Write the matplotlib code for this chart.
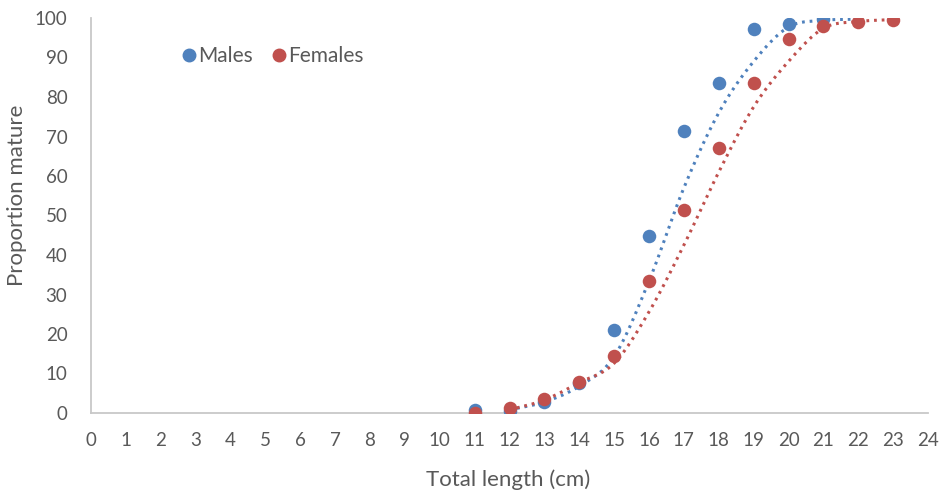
import numpy as np
import matplotlib
matplotlib.use("Agg")
import matplotlib.pyplot as plt
from matplotlib.lines import Line2D

# Observed proportion mature (%) by total length class (cm)
male_length = [11, 12, 13, 14, 15, 16, 17, 18, 19, 20, 21]
male_mature = [0.8, 0.5, 2.9, 7.5, 21.0, 44.8, 71.5, 83.6, 97.1, 98.5, 99.7]

female_length = [11, 12, 13, 14, 15, 16, 17, 18, 19, 20, 21, 22, 23]
female_mature = [0.0, 1.2, 3.5, 7.9, 14.4, 33.4, 51.4, 67.0, 83.6, 94.7, 98.1, 98.9, 99.5]

# Fitted maturity ogives evaluated at each length class
male_fit_length = [12, 13, 14, 15, 16, 17, 18, 19, 20, 21, 22]
male_fit = [0.8, 2.8, 6.8, 14.3, 33.4, 57.0, 76.0, 89.0, 97.7, 99.4, 99.7]

female_fit_length = [12, 13, 14, 15, 16, 17, 18, 19, 20, 21, 22, 23]
female_fit = [0.8, 3.3, 7.7, 12.6, 25.6, 42.5, 61.0, 77.5, 89.0, 97.4, 99.1, 99.6]

x_ticks = list(range(0, 25))
y_ticks = list(range(0, 101, 10))

BLUE = "#4F81BD"
RED = "#C0504D"
TEXT = "#595959"
AXIS = "#C8C8C8"


def smooth(xs, ys, n=20):
    """Catmull-Rom smoothing through the given points (spreadsheet-style smoothed line)."""
    xs = np.asarray(xs, float)
    ys = np.asarray(ys, float)
    px = np.concatenate([[2 * xs[0] - xs[1]], xs, [2 * xs[-1] - xs[-2]]])
    py = np.concatenate([[2 * ys[0] - ys[1]], ys, [2 * ys[-1] - ys[-2]]])
    out_x, out_y = [], []
    t = np.linspace(0, 1, n, endpoint=False)
    for i in range(1, len(px) - 2):
        p0x, p1x, p2x, p3x = px[i - 1:i + 3]
        p0y, p1y, p2y, p3y = py[i - 1:i + 3]
        for (p0, p1, p2, p3, acc) in ((p0x, p1x, p2x, p3x, out_x), (p0y, p1y, p2y, p3y, out_y)):
            acc.extend(0.5 * (2 * p1 + (-p0 + p2) * t + (2 * p0 - 5 * p1 + 4 * p2 - p3) * t ** 2
                              + (-p0 + 3 * p1 - 3 * p2 + p3) * t ** 3))
    out_x.append(xs[-1])
    out_y.append(ys[-1])
    return np.array(out_x), np.array(out_y)


plt.rcParams["font.family"] = ["Lato", "DejaVu Sans"]

fig = plt.figure(figsize=(9.47, 5.0), dpi=100)
ax = fig.add_axes([91 / 947, 1 - 413 / 500, (928 - 91) / 947, (413 - 18) / 500])

dot_style = (0, (0.9, 1.6))
mx, my = smooth(male_fit_length, male_fit)
fx, fy = smooth(female_fit_length, female_fit)
ax.plot(mx, my, color=BLUE, lw=2.2, linestyle=dot_style, zorder=2)
ax.plot(fx, fy, color=RED, lw=2.2, linestyle=dot_style, zorder=2)

ax.scatter(male_length, male_mature, s=95, color=BLUE, zorder=3, linewidths=0)
ax.scatter(female_length, female_mature, s=95, color=RED, zorder=4, linewidths=0)

ax.set_xlim(0, 24)
ax.set_ylim(0, 100)
ax.set_xticks(x_ticks)
ax.set_yticks(y_ticks)
ax.tick_params(axis="both", length=0, colors=TEXT, labelsize=13.5)
ax.tick_params(axis="x", pad=14)
ax.tick_params(axis="y", pad=17)

for side in ("top", "right"):
    ax.spines[side].set_visible(False)
for side in ("left", "bottom"):
    ax.spines[side].set_color(AXIS)
    ax.spines[side].set_linewidth(1.3)

ax.set_xlabel("Total length (cm)", color=TEXT, fontsize=16)
ax.set_ylabel("Proportion mature", color=TEXT, fontsize=16)
ax.xaxis.set_label_coords(0.498, -0.142)
ax.yaxis.set_label_coords(-0.0765, 0.55)

handles = [
    Line2D([], [], marker="o", linestyle="none", color=BLUE, markersize=9, label="Males"),
    Line2D([], [], marker="o", linestyle="none", color=RED, markersize=9, label="Females"),
]
leg = ax.legend(handles=handles, loc="center left", bbox_to_anchor=(0.110, 0.904), ncol=2,
                frameon=False, handletextpad=0.1, columnspacing=1.0, handlelength=0.6,
                fontsize=15, borderaxespad=0, borderpad=0)
for t in leg.get_texts():
    t.set_color(TEXT)

fig.savefig("out.png", dpi=100)
